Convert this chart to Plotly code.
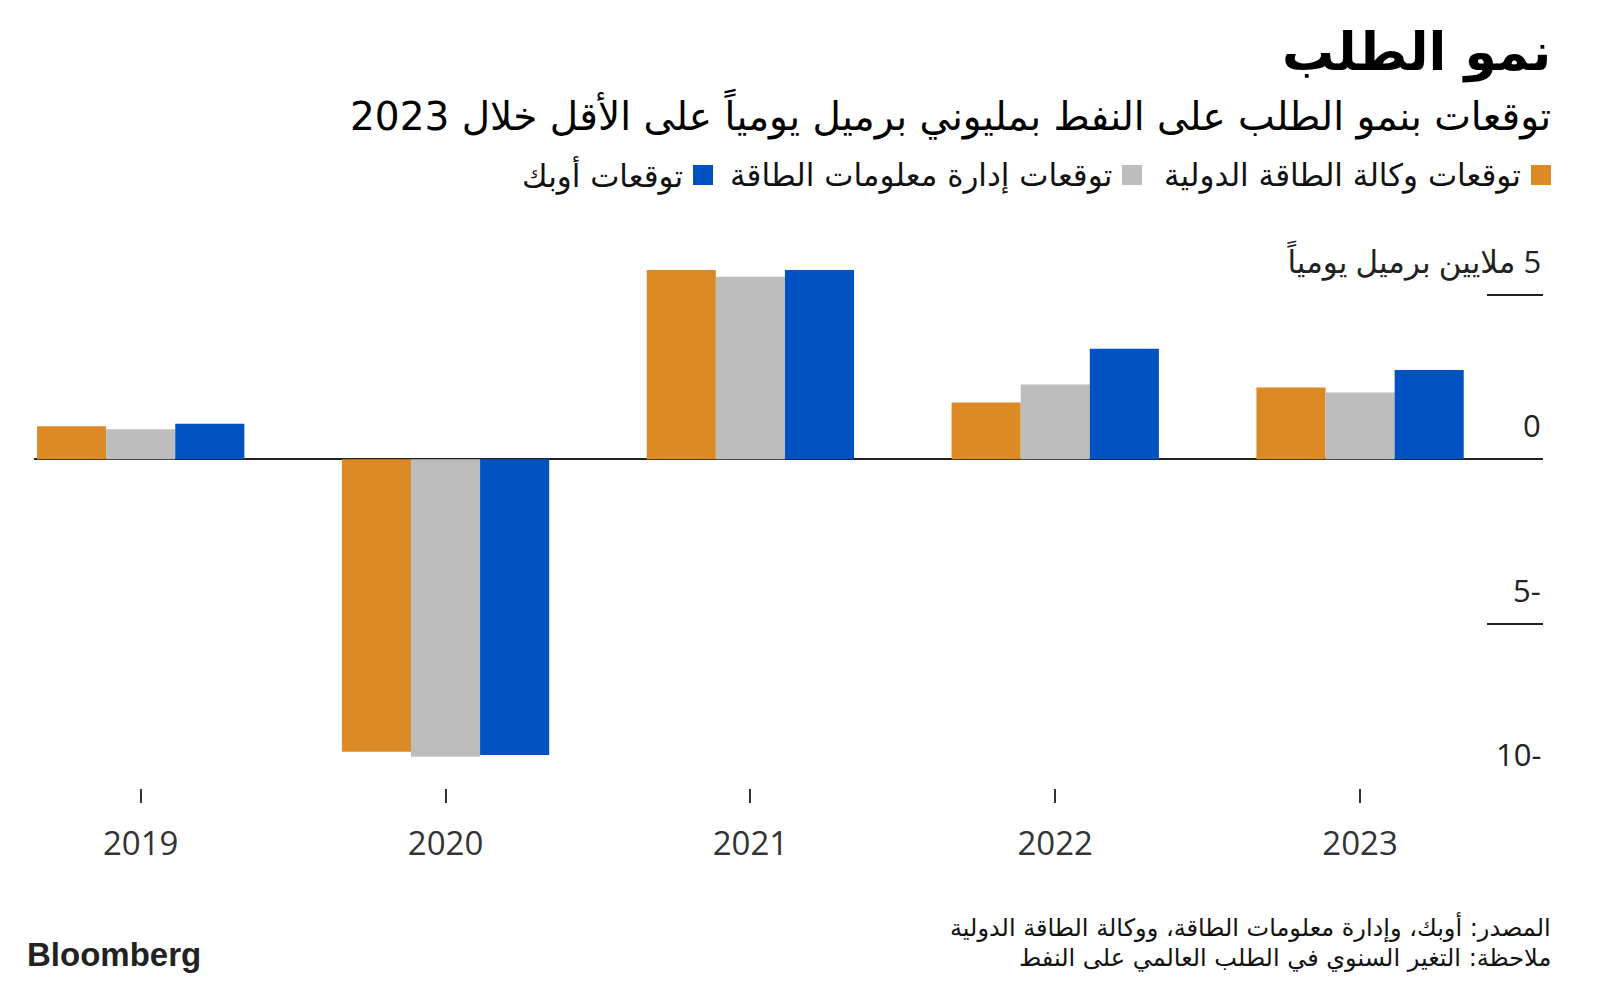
import plotly.graph_objects as go

years = ["2019", "2020", "2021", "2022", "2023"]
iea = [1.0, -8.9, 5.75, 1.72, 2.18]
eia = [0.91, -9.05, 5.55, 2.27, 2.03]
opec = [1.08, -9.0, 5.75, 3.36, 2.71]

series_names = ["توقعات وكالة الطاقة الدولية", "توقعات إدارة معلومات الطاقة", "توقعات أوبك"]
colors = ["#DB8A25", "#BDBDBD", "#0052C0"]

y_ticks = [5, 0, -5, -10]
y_ticktext = ["ملايين برميل يومياً\u200e 5", "0", "5-", "10-"]

title = "نمو الطلب"
subtitle = "توقعات بنمو الطلب على النفط بمليوني برميل يومياً على الأقل خلال 2023"
source = "المصدر: أوبك، وإدارة معلومات الطاقة، ووكالة الطاقة الدولية"
note = "ملاحظة: التغير السنوي في الطلب العالمي على النفط"

W, H = 1600, 986
OFF = 8  # page body margin
# target plot box in page pixels
PL, PR, PT, PB = 34, 1543, 229, 788
L, R, T, B = PL - OFF, W - (PR - OFF), PT - OFF, H - (PB - OFF)
PW, PH = PR - PL, PB - PT

def fx(px):
    return (px - PL) / PW

def fy(py):
    return (PB - py) / PH

AR = "DejaVu Sans, sans-serif"
NUM = "Open Sans, DejaVu Sans, sans-serif"

fig = go.Figure()
for name, vals, c in zip(series_names, [iea, eia, opec], colors):
    fig.add_trace(go.Bar(x=years, y=vals, name=name, marker_color=c,
                         marker_line_width=0, showlegend=False))

fig.update_layout(
    width=W, height=H,
    margin=dict(l=L, r=R, t=T, b=B),
    paper_bgcolor="white", plot_bgcolor="white",
    barmode="group", bargap=0.32, bargroupgap=0,
    xaxis=dict(type="category", range=[-0.35, 4.6], showgrid=False, showline=False,
               ticks="outside", ticklen=14, tickwidth=2, tickcolor="#333",
               tickfont=dict(family=NUM, size=33, color="#333"),
               ticklabelstandoff=12),
    yaxis=dict(range=[-10, 7], side="right", showgrid=False, showline=False,
               tickvals=y_ticks, ticks="inside", ticklen=56, tickwidth=2, tickcolor="#222",
               showticklabels=False,
               zeroline=True, zerolinecolor="#222", zerolinewidth=2),
    font=dict(family=AR, color="#111"),
)

annotations = []
for v, t in zip(y_ticks, y_ticktext):
    annotations.append(dict(x=1, xref="paper", xanchor="right", y=v, yref="y",
                            yanchor="middle", yshift=34, text=t, showarrow=False,
                            font=dict(family=NUM, size=31, color="#222")))

annotations += [
    dict(x=fx(1553), y=fy(52), xref="paper", yref="paper", xanchor="right", yanchor="middle",
         text="<b>" + title + "</b>", showarrow=False, font=dict(family=AR, size=52, color="#000")),
    dict(x=fx(1553), y=fy(114), xref="paper", yref="paper", xanchor="right", yanchor="middle",
         text=subtitle, showarrow=False, font=dict(family=AR, size=39, color="#000")),
    dict(x=fx(1553), y=fy(927), xref="paper", yref="paper", xanchor="right", yanchor="middle",
         text=source, showarrow=False, font=dict(family=AR, size=24, color="#111")),
    dict(x=fx(1553), y=fy(958), xref="paper", yref="paper", xanchor="right", yanchor="middle",
         text=note, showarrow=False, font=dict(family=AR, size=24, color="#111")),
    dict(x=fx(25), y=fy(954), xref="paper", yref="paper", xanchor="left", yanchor="middle",
         text="<b>Bloomberg</b>", showarrow=False,
         font=dict(family="Liberation Sans, Arial, sans-serif", size=33, color="#222")),
]

# manual RTL legend
leg_sq_right = [1551, 1142, 713]
shapes = []
for name, c, xr in zip(series_names, colors, leg_sq_right):
    shapes.append(dict(type="rect", xref="paper", yref="paper",
                       x0=fx(xr - 20), x1=fx(xr), y0=fy(185), y1=fy(165),
                       fillcolor=c, line_width=0))
    annotations.append(dict(x=fx(xr - 28), y=fy(175), xref="paper", yref="paper",
                            xanchor="right", yanchor="middle", text=name, showarrow=False,
                            font=dict(family=AR, size=31, color="#111")))

fig.update_layout(annotations=annotations, shapes=shapes)
fig.write_html("out.html")
